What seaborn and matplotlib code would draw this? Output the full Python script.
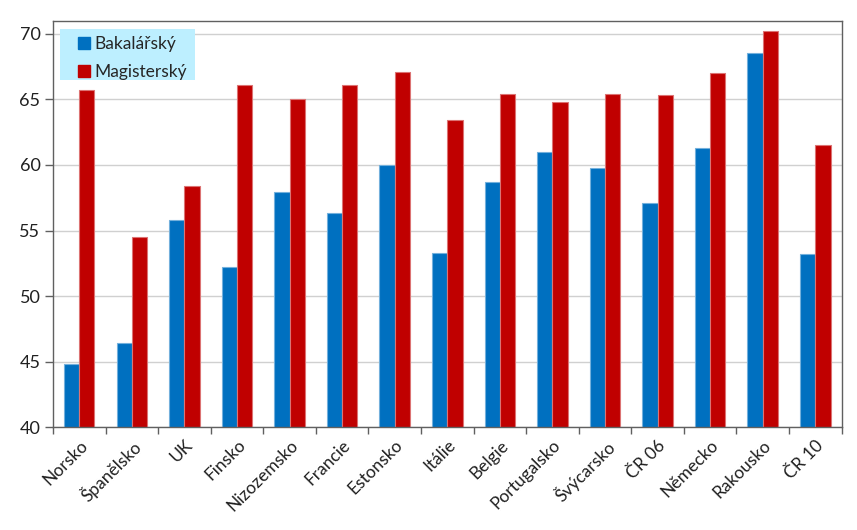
import numpy as np
import pandas as pd
import matplotlib
matplotlib.use("Agg")
import matplotlib.pyplot as plt
import matplotlib.colors as mcolors
from matplotlib.lines import Line2D
from matplotlib.patches import Rectangle
import seaborn as sns

categories = ["Norsko", "Španělsko", "UK", "Finsko", "Nizozemsko", "Francie", "Estonsko",
              "Itálie", "Belgie", "Portugalsko", "Švýcarsko", "ČR 06", "Německo", "Rakousko", "ČR 10"]
bakalarsky = [44.8, 46.4, 55.8, 52.2, 57.9, 56.3, 60.0, 53.3, 58.7, 61.0, 59.8, 57.1, 61.3, 68.5, 53.2]
magistersky = [65.7, 54.5, 58.4, 66.1, 65.0, 66.1, 67.1, 63.4, 65.4, 64.8, 65.4, 65.3, 67.0, 70.2, 61.5]
series_names = ["Bakalářský", "Magisterský"]
yticks = [40, 45, 50, 55, 60, 65, 70]

sns.set_theme(style="white")
plt.rcParams['font.family'] = ['Lato', 'DejaVu Sans']

df = pd.DataFrame({
    "cat": categories * 2,
    "val": bakalarsky + magistersky,
    "series": [series_names[0]] * len(categories) + [series_names[1]] * len(categories),
})

colors = ["#0070C0", "#C00000"]

fig = plt.figure(figsize=(8.57, 5.30), dpi=100)
ax = fig.add_axes([0.0618, 0.1938, 0.9202, 0.7672])

sns.barplot(data=df, x="cat", y="val", hue="series", palette=colors, width=0.58,
            gap=0, dodge=True, ax=ax, legend=False, saturation=1, linewidth=0.8)

for p in ax.patches:
    fc = np.array(mcolors.to_rgb(p.get_facecolor()))
    ec = fc + (1 - fc) * 0.45
    p.set_edgecolor(ec)
    p.set_linewidth(0.8)

ax.set_ylim(40, 71)
ax.set_xlim(-0.5, len(categories) - 0.5)
ax.set_yticks(yticks)
ax.yaxis.grid(True, color="#D0D0D0", linewidth=1)
ax.set_axisbelow(True)
ax.set_xlabel("")
ax.set_ylabel("")

for s in ax.spines.values():
    s.set_color("#606060")
    s.set_linewidth(1)

ax.tick_params(axis="y", which="major", left=True, length=6, width=1, color="#606060",
               labelsize=13, labelcolor="#202020", pad=3)
ax.set_xticks(np.arange(len(categories)))
ax.set_xticklabels(categories, rotation=45, ha="right", rotation_mode="anchor")
ax.tick_params(axis="x", which="major", bottom=False, length=0, labelsize=12.5,
               labelcolor="#202020", pad=7)
ax.set_xticks(np.arange(-0.5, len(categories), 1), minor=True)
ax.tick_params(axis="x", which="minor", bottom=True, length=5, width=1, color="#606060")

# legend background box
ax.add_patch(Rectangle((0.0089, 0.854), 0.171, 0.1254, transform=ax.transAxes,
                       facecolor="#BDEFFF", edgecolor="none", zorder=4))

handles = [Line2D([0], [0], marker="s", linestyle="none", markersize=8,
                  markerfacecolor=c, markeredgecolor=c) for c in colors]
leg = ax.legend(handles, series_names, loc="upper left", bbox_to_anchor=(0.0304, 0.962),
                borderaxespad=0, frameon=False, fontsize=12.5,
                handlelength=0.8, handletextpad=0.2, labelspacing=0.66,
                borderpad=0)
leg.set_zorder(6)

fig.savefig("out.png", dpi=100)
